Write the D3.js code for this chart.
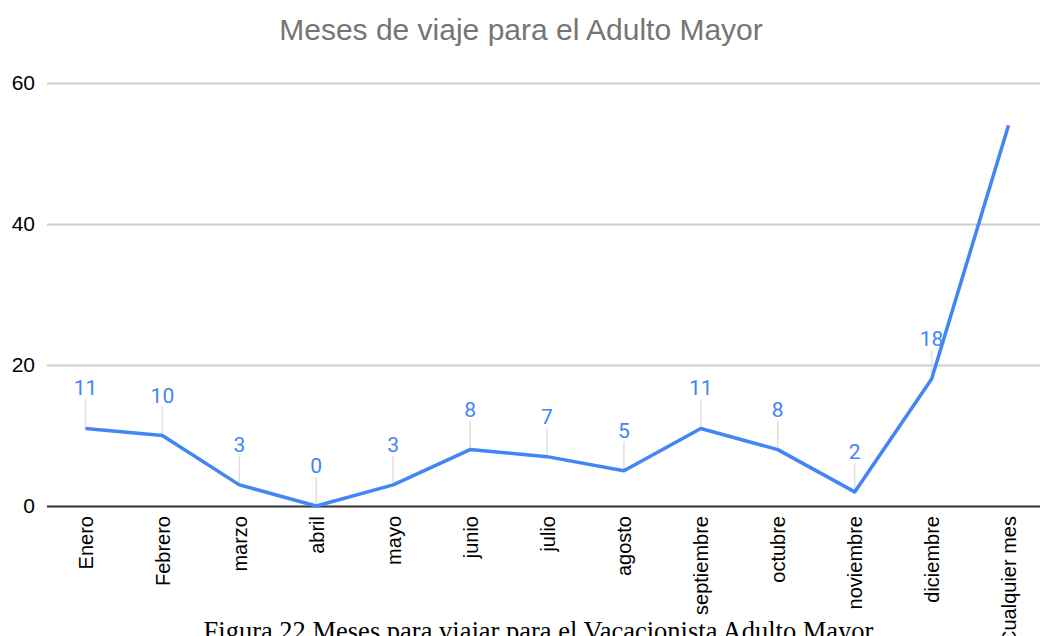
<!DOCTYPE html>
<html>
<head>
<meta charset="utf-8">
<script src="https://cdn.jsdelivr.net/npm/d3@7"></script>
<style>
  body { margin: 0; background: #fff; }
  svg { display: block; }
</style>
</head>
<body>
<div id="chart"></div>
<script>
// Data
var months = ["Enero", "Febrero", "marzo", "abril", "mayo", "junio", "julio",
  "agosto", "septiembre", "octubre", "noviembre", "diciembre", "Cualquier mes"];
var counts = [11, 10, 3, 0, 3, 8, 7, 5, 11, 8, 2, 18, 54];
var yTicks = [0, 20, 40, 60];

var svgWidth = 1040;
var svgHeight = 636;

var svg = d3.select("#chart")
  .append("svg")
  .attr("width", svgWidth)
  .attr("height", svgHeight);

var data = months.map(function(m, i) { return { month: m, value: counts[i] }; });
// the last point has no data label in the original
var labelled = data.filter(d => d.month !== "Cualquier mes");

// Scales
var xScale = d3.scalePoint()
  .domain(months)
  .range([47, 1047])
  .padding(0.5);

var yScale = d3.scaleLinear()
  .domain([0, 60])
  .range([506, 83]);

// Title
svg.append("text")
  .attr("x", 521)
  .attr("y", 40)
  .attr("text-anchor", "middle")
  .style("font-family", "Liberation Sans, Arial, sans-serif")
  .style("font-size", "30px")
  .style("fill", "#757575")
  .text("Meses de viaje para el Adulto Mayor");

// Gridlines + y labels
var leftAxis = d3.axisLeft(yScale)
  .tickValues(yTicks)
  .tickSize(-(svgWidth - 47))
  .tickPadding(12);

var yAxisG = svg.append("g")
  .attr("transform", "translate(47,0)")
  .call(leftAxis);

yAxisG.select(".domain").remove();
yAxisG.selectAll(".tick line")
  .attr("stroke", d => d === 0 ? "#333" : "#cccccc")
  .attr("stroke-width", 2);
yAxisG.selectAll(".tick text")
  .style("font-family", "Liberation Sans, Arial, sans-serif")
  .style("font-size", "21px")
  .style("fill", "#000");

// X labels
var bottomAxis = d3.axisBottom(xScale).tickSize(0).tickPadding(0);
var xAxisG = svg.append("g")
  .attr("transform", "translate(0,506)")
  .call(bottomAxis);
xAxisG.select(".domain").remove();
xAxisG.selectAll(".tick text")
  .attr("transform", "rotate(-90)")
  .attr("x", -10)
  .attr("y", 0)
  .attr("dy", "0.35em")
  .style("text-anchor", "end")
  .style("font-family", "Liberation Sans, Arial, sans-serif")
  .style("font-size", "20px")
  .style("fill", "#000");

// Leader lines
svg.selectAll(".leader")
  .data(labelled)
  .enter()
  .append("line")
  .attr("class", "leader")
  .attr("x1", d => xScale(d.month))
  .attr("x2", d => xScale(d.month))
  .attr("y1", d => yScale(d.value))
  .attr("y2", d => yScale(d.value) - 29)
  .attr("stroke", "#e0e0e0")
  .attr("stroke-width", 1.5);

// Line
var line = d3.line()
  .x(d => xScale(d.month))
  .y(d => yScale(d.value));

svg.append("path")
  .datum(data)
  .attr("d", line)
  .attr("fill", "none")
  .attr("stroke", "#4285f4")
  .attr("stroke-width", 3.5)
  .attr("stroke-linejoin", "round");

// Data labels
svg.selectAll(".dlabel")
  .data(labelled)
  .enter()
  .append("text")
  .attr("class", "dlabel")
  .attr("x", d => xScale(d.month))
  .attr("y", d => yScale(d.value) - 33)
  .attr("text-anchor", "middle")
  .style("font-family", "Roboto, sans-serif")
  .style("font-size", "21px")
  .style("fill", "#4285f4")
  .text(d => d.value);

// Caption
svg.append("text")
  .attr("x", 538.5)
  .attr("y", 640)
  .attr("text-anchor", "middle")
  .style("font-family", "Liberation Serif, 'Times New Roman', serif")
  .style("font-size", "26.5px")
  .style("fill", "#000")
  .text("Figura 22 Meses para viajar para el Vacacionista Adulto Mayor");
</script>
</body>
</html>
